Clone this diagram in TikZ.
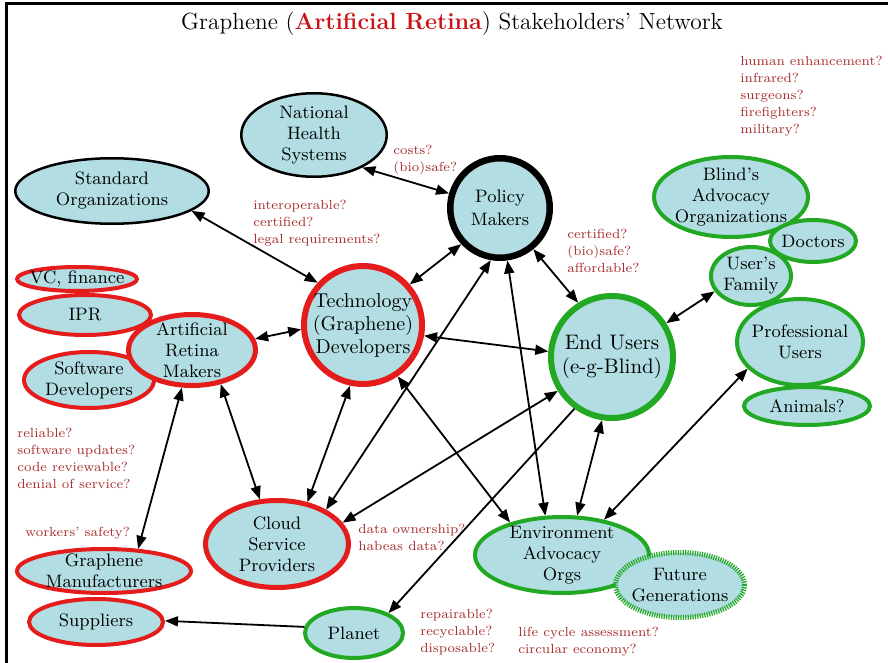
\documentclass[tikz,border=0pt]{standalone}
\usetikzlibrary{shapes.geometric,arrows.meta}
\definecolor{fillc}{RGB}{178,221,226}
\definecolor{nred}{RGB}{228,28,28}
\definecolor{ngreen}{RGB}{34,168,34}
\definecolor{lblred}{RGB}{168,44,44}
\definecolor{titred}{RGB}{200,20,24}
\begin{document}
\begin{tikzpicture}[x=0.5pt,y=-0.5pt,
  nd/.style={ellipse, fill=fillc, inner sep=-20pt, align=center, text=black,
    font=\fontsize{9}{10.5}\selectfont},
  sz/.style 2 args={minimum width=#1, minimum height=#2},
  blk/.style={draw=black},
  rd/.style={draw=nred},
  gn/.style={draw=ngreen},
  lbl/.style={text=lblred, font=\fontsize{6.6}{8.5}\selectfont, align=left,
    anchor=north west, inner sep=0pt},
  conn/.style={line width=0.9pt, >={Triangle[length=6.5pt,width=5pt]}}
]
\fill[white] (0,0) rectangle (888,663);
\useasboundingbox (0,0) rectangle (888,663);
\draw[line width=1.5pt] (6,663) -- (6,4) -- (888,4);

% title
\node[anchor=base, inner sep=0pt, font=\fontsize{11.7}{13}\selectfont] (title) at (452,30)
  {Graphene (\textcolor{titred}{\textbf{Artificial Retina}}) Stakeholders' Network};

% nodes
\node[nd, blk, line width=1.25pt, sz={72.75pt}{41.75pt}] (nhs) at (314,135) {National\\Health\\Systems};
\node[nd, blk, line width=1.25pt, sz={96.75pt}{32.75pt}] (std) at (112,191) {Standard\\Organizations};
\node[nd, blk, line width=3.25pt, sz={49.75pt}{49.75pt}, font=\fontsize{9}{11.5}\selectfont] (pol) at (500,208) {Policy\\Makers};
\node[nd, rd, line width=3pt, sz={59pt}{59pt}, font=\fontsize{10}{11.5}\selectfont] (tech) at (363,325) {Technology\\(Graphene)\\Developers};
\node[nd, gn, line width=3pt, sz={61pt}{61pt}, font=\fontsize{10.5}{12}\selectfont] (end) at (612,357) {End Users\\(e-g-Blind)};

\node[nd, rd, line width=2pt, sz={66pt}{20pt}] (ipr) at (85,315) {IPR};
\node[nd, rd, line width=2pt, sz={60pt}{12pt}] (vc) at (77,279) {VC, finance};
\node[nd, rd, line width=2pt, sz={65pt}{28pt}] (sw) at (89,380) {Software\\Developers};
\node[nd, rd, line width=2.5pt, sz={63.5pt}{35.5pt}] (arm) at (192,350) {Artificial\\Retina\\Makers};

\node[nd, rd, line width=2.5pt, sz={71.5pt}{43.5pt}] (cloud) at (277,544) {Cloud\\Service\\Providers};
\node[nd, rd, line width=2pt, sz={87pt}{22pt}] (gm) at (104,571) {Graphene\\Manufacturers};
\node[nd, rd, line width=2pt, sz={67pt}{23pt}] (sup) at (96,622) {Suppliers};
\node[nd, gn, line width=2pt, sz={49pt}{25pt}] (planet) at (354,633) {Planet};

\node[nd, gn, line width=2pt, sz={87pt}{38pt}] (env) at (562,555) {Environment\\Advocacy\\Orgs};
\node[nd, gn, line width=2.5pt, sz={64.5pt}{32.5pt}, dash pattern=on 0.6pt off 0.6pt] (fut) at (680,585) {Future\\Generations};

\node[nd, gn, line width=2pt, sz={77pt}{40pt}] (blind) at (731,197) {Blind's\\Advocacy\\Organizations};
\node[nd, gn, line width=2pt, sz={43pt}{21pt}] (doc) at (813,241) {Doctors};
\node[nd, gn, line width=2pt, sz={40pt}{29pt}] (fam) at (751,276) {User's\\Family};
\node[nd, gn, line width=2pt, sz={63pt}{19pt}] (anim) at (807,406) {Animals?};
\node[nd, gn, line width=2pt, sz={63pt}{43pt}] (prof) at (800,342) {Professional\\Users};

% labels
\node[lbl] (l1) at (393,144.8) {costs?\\(bio)safe?};
\node[lbl] (l2) at (253,199.8) {interoperable?\\certified?\\legal requirements?};
\node[lbl] (l3) at (740,55.8) {human enhancement?\\infrared?\\surgeons?\\firefighters?\\military?};
\node[lbl] (l4) at (567,228.8) {certified?\\(bio)safe?\\affordable?};
\node[lbl] (l5) at (17,427.8) {reliable?\\software updates?\\code reviewable?\\denial of service?};
\node[lbl] (l6) at (25,526.8) {workers' safety?};
\node[lbl] (l7) at (358,523.8) {data ownership?\\habeas data?};
\node[lbl] (l8) at (420,608.8) {repairable?\\recyclable?\\disposable?};
\node[lbl] (l9) at (518,626.8) {life cycle assessment?\\circular economy?};

% connectors
\draw[conn,<->] (std.-14.5) -- (tech.137.6);
\draw[conn,<->] (nhs.-34.5) -- (pol.164);
\draw[conn,<->] (pol.223) -- (tech.41.3);
\draw[conn,<->] (pol.-51.5) -- (end.122.5);
\draw[conn,<->] (arm.10.3) -- (tech.184.4);
\draw[conn,<->] (tech.-10.6) -- (end.175.7);
\draw[conn,<->] (tech.258.2) -- (cloud.54.9);
\draw[conn,<->] (arm.-50.5) -- (cloud.111.2);
\draw[conn,<->] (arm.-105.6) -- (gm.33.7);
\draw[conn,<->] (pol.-100.3) -- (cloud.35.3);
\draw[conn,<->] (pol.-82.7) -- (env.113.7);
\draw[conn,<->] (tech.-56.6) -- (env.148.3);
\draw[conn,<->] (end.212.3) -- (cloud.18.2);
\draw[conn,->] (end.234.6) -- (planet.30.5);
\draw[conn,<->] (end.261) -- (env.69.4);
\draw[conn,<->] (prof.207) -- (env.40.7);
\draw[conn,<->] (end.32.5) -- (fam.203.5);
\draw[conn,->] (planet.173.3) -- (sup.1.7);
\end{tikzpicture}
\end{document}
